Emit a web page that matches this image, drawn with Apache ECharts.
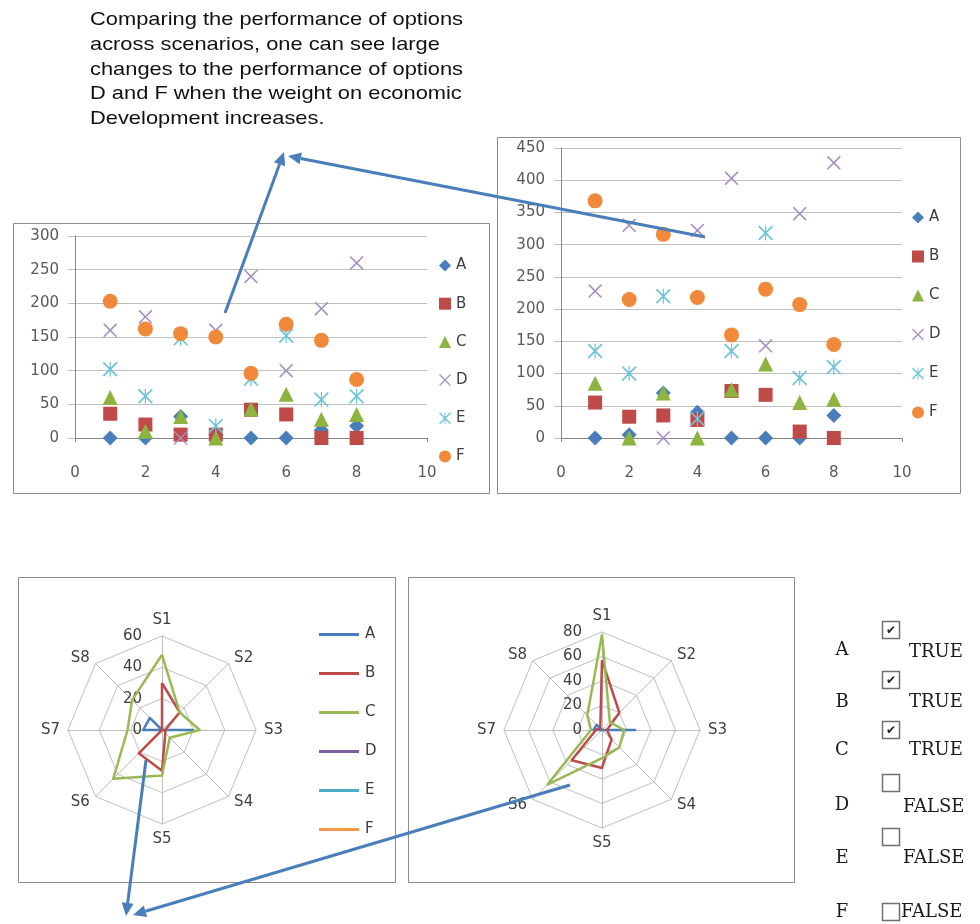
<!DOCTYPE html>
<html><head><meta charset="utf-8">
<script src="https://cdn.jsdelivr.net/npm/echarts@6/dist/echarts.min.js"></script>
<style>html,body{margin:0;padding:0;background:#fff}#c{width:980px;height:924px}</style>
</head><body><div id="c"></div>
<script>
// ---------- data ----------
const seriesNames = ['A','B','C','D','E','F'];
const scenarios = [1,2,3,4,5,6,7,8];
// left scatter
const scatter1A = [0,0,32,5,0,0,12,18];
const scatter1B = [36,20,5,5,42,35,0,0];
const scatter1C = [60,10,32,0,43,65,28,35];
const scatter1D = [160,180,0,160,240,100,192,260];
const scatter1E = [102,62,148,18,88,152,57,62];
const scatter1F = [203,162,155,150,96,169,145,87];
// right scatter
const scatter2A = [0,5,70,40,0,0,0,35];
const scatter2B = [55,33,35,28,73,67,10,0];
const scatter2C = [85,0,70,0,75,115,55,60];
const scatter2D = [228,330,0,322,403,143,348,427];
const scatter2E = [135,100,220,30,135,318,93,110];
const scatter2F = [368,215,316,218,160,231,207,145];
// radar axes and values (S1..S8)
const radarAxes = ['S1','S2','S3','S4','S5','S6','S7','S8'];
const radar1A = [0,0,20,0,0,0,12,11];
const radar1B = [30,16,2,3,26,21,0,0];
const radar1C = [48,16,24,7,29,44,22,27];
const radar1D = [0,0,0,0,0,0,0,0];
const radar1E = [0,0,0,0,0,0,0,0];
const radar1F = [0,0,0,0,0,0,0,0];
const radar2A = [0,0,27,0,0,0,7,6];
const radar2B = [57,20,4,11,31,35,5,2];
const radar2C = [78,9,18,20,23,63,9,17];
const radar2D = [0,0,0,0,0,0,0,0];
const radar2E = [0,0,0,0,0,0,0,0];
const radar2F = [0,0,0,0,0,0,0,0];
const radar1Max = 60, radar2Max = 80;
// check list
const checkLabels = ['A','B','C','D','E','F'];
const checkStates = [true,true,true,false,false,false];
// note
const noteLines = [
  'Comparing the performance of options',
  'across scenarios, one can see large',
  'changes to the performance of options',
  'D and F when the weight on economic',
  'Development increases.'
];

// ---------- styles ----------
const colors = ['#4a7ebb','#be4b48','#98b954','#7d60a0','#4bacc6','#f79646'];
const markerColors = ['#4a7ebb','#be4b48','#8cb43f','#a48fc4','#6cc3da','#f08a3a'];
const xPath = 'path://M0,0.8L0.8,0L10,9.2L9.2,10Z M9.2,0L10,0.8L0.8,10L0,9.2Z';
const starPath = 'path://M0,0.8L0.8,0L10,9.2L9.2,10Z M9.2,0L10,0.8L0.8,10L0,9.2Z M4.6,0L5.4,0L5.4,10L4.6,10Z';
const symbols = ['diamond','rect','triangle',xPath,starPath,'circle'];
const symbolSizes = [15,14,15,14,15,15];
const FONT = 'DejaVu Sans';
const labelColor = '#595959';

const s1 = [scatter1A,scatter1B,scatter1C,scatter1D,scatter1E,scatter1F];
const s2 = [scatter2A,scatter2B,scatter2C,scatter2D,scatter2E,scatter2F];
const r1 = [radar1A,radar1B,radar1C,radar1D,radar1E,radar1F];
const r2 = [radar2A,radar2B,radar2C,radar2D,radar2E,radar2F];

const series = [];
[s1, s2].forEach((set, g) => {
  set.forEach((vals, j) => {
    series.push({
      type:'scatter', name: seriesNames[j], xAxisIndex:g, yAxisIndex:g,
      symbol: symbols[j], symbolSize: symbolSizes[j],
      itemStyle:{color: markerColors[j], opacity:1},
      emphasis:{disabled:true},
      data: scenarios.map((x,i) => [x, vals[i]])
    });
  });
});

const radarOrder = [0,7,6,5,4,3,2,1];
const reorder = arr => radarOrder.map(i => arr[i]);
[r1, r2].forEach((set, k) => {
  series.push({
    type:'radar', radarIndex:k, symbol:'none', silent:true,
    data: set.map((vals, j) => ({
      name: seriesNames[j], value: reorder(vals),
      lineStyle:{color: colors[j], width:2.5}, itemStyle:{color: colors[j]}
    }))
  });
});

function xAxisCfg(g){
  return {gridIndex:g, type:'value', min:0, max:10, interval:2,
    axisLine:{show:true, onZero:false, lineStyle:{color:'#868686'}},
    axisTick:{show:true, length:4, lineStyle:{color:'#868686'}},
    splitLine:{show:false},
    axisLabel:{margin:28, color:labelColor, fontSize:15, fontFamily:FONT}};
}
function yAxisCfg(g, max){
  return {gridIndex:g, type:'value', min:0, max:max, interval:50,
    axisLine:{show:true, lineStyle:{color:'#868686'}},
    axisTick:{show:true, length:7, lineStyle:{color:'#bfbfbf'}},
    splitLine:{show:true, lineStyle:{color:'#bfbfbf'}},
    axisLabel:{margin:16, color:labelColor, fontSize:15, fontFamily:FONT}};
}
function radarCfg(center, radius, max, split){
  return {
    center, radius, startAngle:90, shape:'polygon', splitNumber:split,
    indicator: radarOrder.map((i,k) => {
      const o = {name: radarAxes[i], max:max, min:0};
      if (k === 0) o.axisLabel = {show:true};
      return o;
    }),
    axisName:{color:'#404040', fontSize:15, fontFamily:FONT},
    nameGap:8,
    axisLine:{lineStyle:{color:'#bfbfbf'}},
    splitLine:{lineStyle:{color:'#bfbfbf'}},
    splitArea:{show:false},
    axisTick:{show:false},
    axisLabel:{show:false, color:'#404040', fontSize:15, fontFamily:FONT, margin:20}
  };
}

const legendText = {color:'#404040', fontSize:15, fontFamily:FONT};
const linePath = 'path://M0,0L40,0L40,3L0,3Z';

// ---------- graphics ----------
const graphics = [];
const boxes = [[13,223,476,270],[497,137,463,356],[18,577,377,305],[408,577,386,305]];
boxes.forEach(b => graphics.push({type:'rect', z:1, shape:{x:b[0]+0.5,y:b[1]+0.5,width:b[2],height:b[3]}, style:{fill:'none', stroke:'#8c8c8c', lineWidth:1}}));

const ctx = document.createElement('canvas').getContext('2d');
ctx.font = '19px "Liberation Sans"';
const sx = 373 / ctx.measureText(noteLines[0]).width;
noteLines.forEach((t,i) => graphics.push({type:'text', x:90, y:20 + 24.7*i, scaleX:sx, z:5,
  style:{text:t, font:'19px "Liberation Sans"', fill:'#111', verticalAlign:'middle', align:'left'}}));

const rowLetterY = [650,702,750,805,858,912];
const rowBoxY = [621,671,721,774,828,903];
const rowTextX = [909,909,909,903,903,901];
const rowTextY = [652,702,750,807,858,912];
checkLabels.forEach((l,i) => {
  graphics.push({type:'text', x:842, y:rowLetterY[i], z:5, style:{text:l, font:'18px "DejaVu Serif"', fill:'#1a1a1a', align:'center', verticalAlign:'middle'}});
  graphics.push({type:'rect', z:5, shape:{x:882.5, y:rowBoxY[i]+0.5, width:17, height:17}, style:{fill:'#fff', stroke:'#707070', lineWidth:1.5}});
  if (checkStates[i]) graphics.push({type:'text', x:891, y:rowBoxY[i]+9.5, z:6, style:{text:'\u2714', font:'12px "DejaVu Sans"', fill:'#222', align:'center', verticalAlign:'middle'}});
  graphics.push({type:'text', x:rowTextX[i], y:rowTextY[i], z:5, style:{text: checkStates[i] ? 'TRUE' : 'FALSE', font:'18px "DejaVu Serif"', fill:'#1a1a1a', align:'left', verticalAlign:'middle'}});
});

const arrows = [[225,313,284,152],[705,237,288,156],[146,760,126,916],[570,785,133,915]];
arrows.forEach(a => {
  const dx = a[2]-a[0], dy = a[3]-a[1], L = Math.hypot(dx,dy);
  const ux = dx/L, uy = dy/L, nx = -uy, ny = ux;
  const bx = a[2]-ux*13, by = a[3]-uy*13;
  graphics.push({type:'line', z:50, shape:{x1:a[0],y1:a[1],x2:bx,y2:by}, style:{stroke:'#4a7ebb', lineWidth:3}});
  graphics.push({type:'polygon', z:50, shape:{points:[[a[2],a[3]],[bx+nx*6,by+ny*6],[bx-nx*6,by-ny*6]]}, style:{fill:'#4a7ebb'}});
});

const chart = echarts.init(document.getElementById('c'));
chart.setOption({
  animation:false,
  backgroundColor:'#fff',
  grid:[{left:75, top:236, width:352, height:202},{left:561, top:148, width:341, height:290}],
  xAxis:[xAxisCfg(0), xAxisCfg(1)],
  yAxis:[yAxisCfg(0,300), yAxisCfg(1,450)],
  radar:[radarCfg([162,730],94,radar1Max,3), radarCfg([602,730],98,radar2Max,4)],
  legend:[
    {orient:'vertical', left:434, top:253, itemGap:23.2, itemWidth:12, itemHeight:12, textStyle:legendText, data:seriesNames, selectedMode:false},
    {orient:'vertical', left:907, top:205, itemGap:24, itemWidth:12, itemHeight:12, textStyle:legendText, data:seriesNames, selectedMode:false},
    {orient:'vertical', left:314, top:622, itemGap:24, itemWidth:42, itemHeight:3, textStyle:legendText, selectedMode:false,
      data: seriesNames.map((n,j) => ({name:n, icon:linePath, itemStyle:{color:colors[j], borderWidth:0}}))}
  ],
  graphic: graphics,
  series: series
});
</script></body></html>
